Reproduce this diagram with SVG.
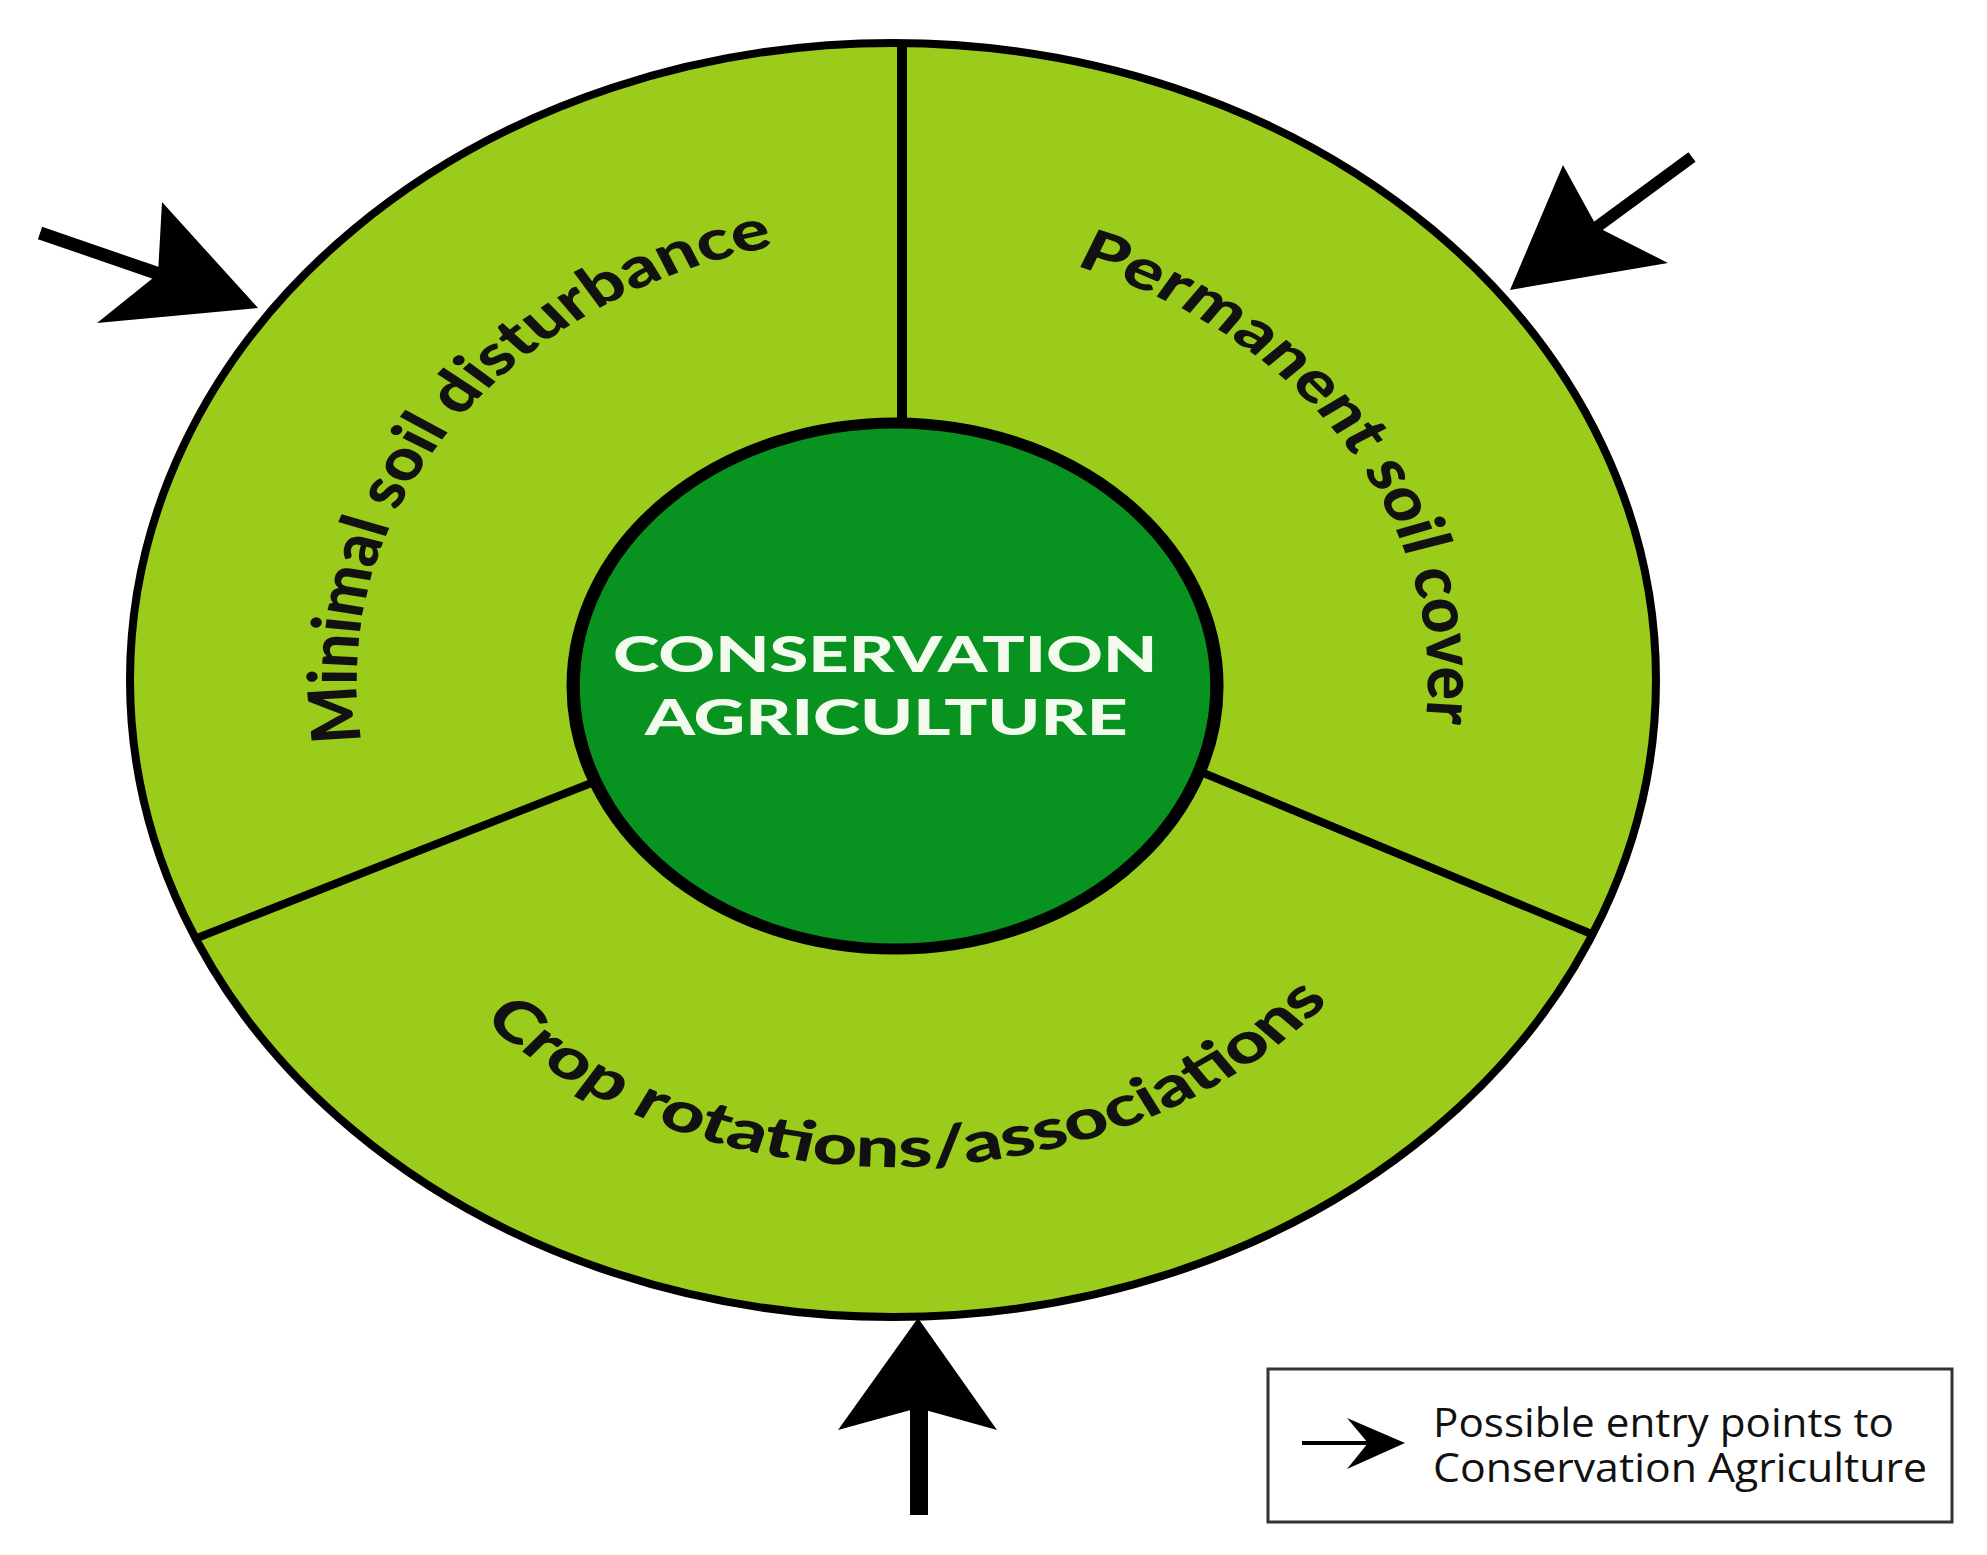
<svg xmlns="http://www.w3.org/2000/svg" width="1987" height="1555" viewBox="0 0 1987 1555">
<style>
.ring{fill:#9bcb1b;stroke:#000;stroke-width:8}
.core{fill:#08921f;stroke:#000;stroke-width:11}
.div{stroke:#000;fill:none;stroke-linecap:butt}
.lbl{font-family:Lato,"Open Sans","Liberation Sans",sans-serif;font-weight:900;font-size:56px;fill:#111}
.ctr{font-family:Lato,"Open Sans","Liberation Sans",sans-serif;font-weight:900;font-size:49px;fill:#f2fbee}
.head{fill:#000;stroke:none}
.shaft{stroke:#000;fill:none}
.leg{font-family:"Open Sans","Noto Sans","Liberation Sans",sans-serif;font-size:40px;fill:#111}
.box{fill:#fff;stroke:#333;stroke-width:3}
</style>
<defs>
<path id="arcMin" d="M354.6,902.5 A445,445 0 0 1 962.5,294.6"/>
<path id="arcPer" d="M663.6,246.7 A440,440 0 0 1 1121.1,900"/>
<path id="arcCrop" d="M333,932 A470,470 0 0 0 1166,895.6"/>
</defs>
<rect width="1987" height="1555" fill="#fff"/>
<g id="outer-ring">
<ellipse class="ring" cx="893" cy="680" rx="763" ry="637"/>
</g>
<g id="dividers">
<line class="div" x1="902" y1="44" x2="902" y2="426" stroke-width="10"/>
<line class="div" x1="197" y1="938" x2="594" y2="782" stroke-width="8"/>
<line class="div" x1="1201" y1="772" x2="1594" y2="935" stroke-width="8"/>
</g>
<g id="sector-minimal">
<g transform="scale(1.21,1)"><text class="lbl"><textPath href="#arcMin" startOffset="171" textLength="660" lengthAdjust="spacingAndGlyphs">Minimal soil disturbance</textPath></text></g>
</g>
<g id="sector-permanent">
<g transform="scale(1.21,1)"><text class="lbl"><textPath href="#arcPer" startOffset="228" textLength="583" lengthAdjust="spacingAndGlyphs">Permanent soil cover</textPath></text></g>
</g>
<g id="sector-crop">
<g transform="scale(1.21,1)"><text class="lbl"><textPath href="#arcCrop" startOffset="110" textLength="790" lengthAdjust="spacingAndGlyphs">Crop rotations/associations</textPath></text></g>
</g>
<g id="center">
<g transform="scale(1.21,1)">
<ellipse class="core" cx="739.7" cy="686" rx="266" ry="263"/>
<text class="ctr" x="506.6" y="672" textLength="450" lengthAdjust="spacingAndGlyphs">CONSERVATION</text>
<text class="ctr" x="533.1" y="735" textLength="399" lengthAdjust="spacingAndGlyphs">AGRICULTURE</text>
</g>
</g>
<g id="connectors">
<line class="shaft" x1="40" y1="233" x2="165" y2="276" stroke-width="13"/>
<polygon class="head" points="258,308 162,202 158,274 97,323"/>
<line class="shaft" x1="1692" y1="157" x2="1590" y2="232" stroke-width="12"/>
<polygon class="head" points="1510,290 1563,165 1597,227 1668,263"/>
<line class="shaft" x1="919" y1="1515" x2="919" y2="1400" stroke-width="18"/>
<polygon class="head" points="918,1318 838,1430 918,1408 997,1430"/>
</g>
<g id="legend">
<rect class="box" x="1268" y="1369" width="684" height="153"/>
<line class="shaft" x1="1302" y1="1443" x2="1370" y2="1443" stroke-width="4"/>
<polygon class="head" points="1405,1443 1347,1418 1368,1443 1347,1469"/>
<text class="leg" x="1433" y="1437" textLength="461" lengthAdjust="spacingAndGlyphs">Possible entry points to</text>
<text class="leg" x="1433" y="1482" textLength="494" lengthAdjust="spacingAndGlyphs">Conservation Agriculture</text>
</g>
</svg>
